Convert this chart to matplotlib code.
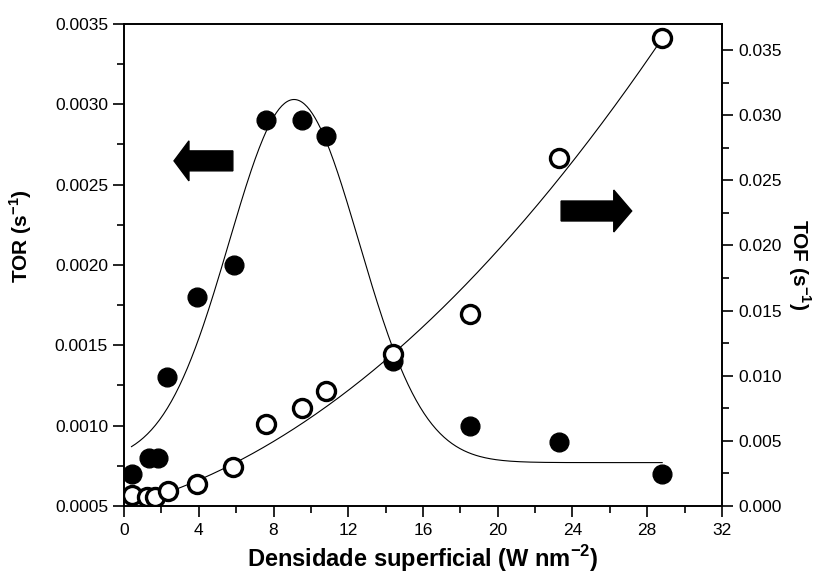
import numpy as np
import matplotlib
matplotlib.use("Agg")
import matplotlib.pyplot as plt
from matplotlib.patches import Polygon
from matplotlib.ticker import MultipleLocator, FormatStrFormatter

plt.rcParams['font.family'] = ['Liberation Sans', 'DejaVu Sans']

# Surface density (W nm^-2) and turnover rates
tor_x = [0.44, 1.35, 1.84, 2.3, 3.9, 5.9, 7.6, 9.5, 10.8, 14.4, 18.5, 23.3, 28.8]
tor_y = [0.0007, 0.0008, 0.0008, 0.0013, 0.0018, 0.0020, 0.0029, 0.0029,
         0.0028, 0.0014, 0.0010, 0.0009, 0.0007]

tof_x = [0.44, 1.21, 1.66, 2.37, 3.92, 5.85, 7.6, 9.5, 10.8, 14.4, 18.5, 23.3, 28.8]
tof_y = [0.00084, 0.0007, 0.0007, 0.00118, 0.00167, 0.0030, 0.0063, 0.0075,
         0.0088, 0.0117, 0.0147, 0.0267, 0.0359]

# Gaussian fit of TOR: y0 + A exp(-(x-xc)^2 / (2 w^2))
tor_fit_y0, tor_fit_a, tor_fit_xc, tor_fit_w = 0.00077, 0.00226, 9.1, 3.48
tor_fit_range = (0.4, 28.8)
# Quadratic fit of TOF: b x + c x^2
tof_fit_b, tof_fit_c = 0.000378, 3.014e-5
tof_fit_range = (1.4, 28.8)

fig = plt.figure(figsize=(8.24, 5.78), dpi=100)
ax = fig.add_axes([0.1505, 0.1246, 0.7257, 0.8339])
ax2 = ax.twinx()

xf = np.linspace(*tor_fit_range, 400)
ax.plot(xf, tor_fit_y0 + tor_fit_a * np.exp(-(xf - tor_fit_xc) ** 2 / (2 * tor_fit_w ** 2)),
        color='black', lw=0.8)
ax.plot(tor_x, tor_y, 'o', color='black', ms=13.5, zorder=3)

xg = np.linspace(*tof_fit_range, 400)
ax2.plot(xg, tof_fit_b * xg + tof_fit_c * xg ** 2, color='black', lw=0.8)
ax2.plot(tof_x, tof_y, 'o', mfc='white', mec='black', mew=2.4, ms=13, zorder=3)

ax.set_xlim(0, 32)
ax.set_ylim(0.0005, 0.0035)
ax2.set_ylim(0, 0.037)

ax.xaxis.set_major_locator(MultipleLocator(4))
ax.xaxis.set_minor_locator(MultipleLocator(2))
ax.yaxis.set_major_locator(MultipleLocator(0.0005))
ax.yaxis.set_minor_locator(MultipleLocator(0.00025))
ax.yaxis.set_major_formatter(FormatStrFormatter('%.4f'))
ax2.yaxis.set_major_locator(MultipleLocator(0.005))
ax2.yaxis.set_minor_locator(MultipleLocator(0.0025))
ax2.yaxis.set_major_formatter(FormatStrFormatter('%.3f'))

for a in (ax, ax2):
    a.tick_params(which='major', direction='out', length=8, width=1.2, labelsize=12.5)
    a.tick_params(which='minor', direction='out', length=5, width=1.2)
    for s in a.spines.values():
        s.set_linewidth(1.2)
ax.tick_params(axis='x', pad=4)

ax.set_xlabel('Densidade superficial (W nm$^{\\mathregular{-2}}$)', fontsize=17,
              fontweight='bold')
ax.xaxis.set_label_coords(0.5, -0.077)
ax.set_ylabel('TOR (s$^{\\mathregular{-1}}$)', fontsize=15, fontweight='bold')
ax.yaxis.set_label_coords(-0.15, 0.56)
ax2.set_ylabel('TOF (s$^{\\mathregular{-1}}$)', fontsize=15, fontweight='bold',
               rotation=270, labelpad=22)


def block_arrow(axis, x_tail, x_tip, y, body_h, head_h, head_len):
    """Solid block arrow in axes-fraction coordinates."""
    d = np.sign(x_tip - x_tail)
    xb = x_tip - d * head_len
    pts = [(x_tail, y - body_h), (xb, y - body_h), (xb, y - head_h), (x_tip, y),
           (xb, y + head_h), (xb, y + body_h), (x_tail, y + body_h)]
    axis.add_patch(Polygon(pts, closed=True, transform=axis.transAxes,
                           facecolor='black', edgecolor='black', zorder=4))


block_arrow(ax2, 0.182, 0.0836, 0.716, 0.0207, 0.0415, 0.025)
block_arrow(ax2, 0.731, 0.849, 0.612, 0.0207, 0.0435, 0.030)

fig.savefig('out.png', dpi=100)
